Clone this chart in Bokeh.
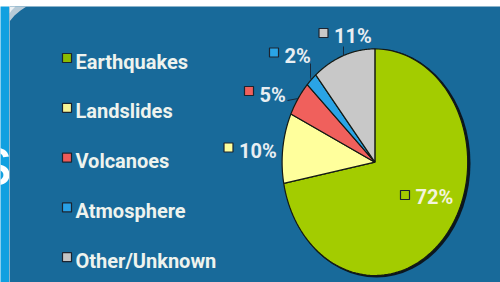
import numpy as np
from bokeh.plotting import figure
from bokeh.layouts import column, row
from bokeh.models import Range1d, ColumnDataSource
from bokeh.core.properties import value
from bokeh.embed import file_html
from bokeh.resources import INLINE

# ---- data ----
categories = ["Earthquakes", "Landslides", "Volcanoes", "Atmosphere", "Other/Unknown"]
shares = [72, 10, 5, 2, 11]
pct_labels = ["72%", "10%", "5%", "2%", "11%"]
bg_text_top = "raised, specially for"
bg_text_left = "s"

# ---- styles / layout ----
slice_colors = ["#a3cc00", "#ffff9c", "#f0605c", "#2aa4e6", "#c8c8c8"]
legend_marker_colors = ["#8cbc00", "#f8f494", "#ee5a58", "#28a0e6", "#c4c4c4"]
dark_blue = "#186a9a"
light_blue = "#11a0e0"
font = "Roboto"

W, H = 500, 282
TOP, LEFT = 6, 9


def bare(fig):
    fig.axis.visible = False
    fig.grid.visible = False
    return fig


# top strip of the slide (light blue, text cut by the panel)
top = bare(figure(width=W, height=TOP, output_backend="svg", toolbar_location=None,
                  x_range=Range1d(0, W), y_range=Range1d(TOP, 0), min_border=0,
                  background_fill_color=light_blue, border_fill_color=light_blue,
                  outline_line_color=None))
top.text(x=[-14], y=[-7], text=[bg_text_top], text_color="white",
         text_font=value("Liberation Sans"), text_font_size="54px",
         text_baseline="middle", text_align="left")

# left strip of the slide
left = bare(figure(width=LEFT, height=H - TOP, output_backend="svg", toolbar_location=None,
                   x_range=Range1d(0, LEFT), y_range=Range1d(H, TOP), min_border=0,
                   background_fill_color=light_blue, border_fill_color=light_blue,
                   outline_line_color=None))
left.text(x=[-6], y=[160.7], text=[bg_text_left], text_color="white",
          text_font=value("Liberation Sans"), text_font_size="70px",
          text_baseline="middle", text_align="center")

# main dark panel
p = bare(figure(width=W - LEFT, height=H - TOP, output_backend="svg", toolbar_location=None,
                x_range=Range1d(LEFT, W), y_range=Range1d(H, TOP), min_border=0,
                background_fill_color=dark_blue, border_fill_color=dark_blue,
                outline_line_color=None))

# page curl decoration at top-left
p.patch([9, 26, 20, 14, 9], [6, 6, 10, 15, 21], fill_color="#d4dbe2",
        fill_alpha=0.85, line_color=None)
p.patch([9, 15, 11, 9], [6, 6, 10, 13], fill_color="#f2f4f6",
        fill_alpha=0.9, line_color=None)

# pie geometry (ellipse, angles clockwise from 12 o'clock)
cx, cy, rx, ry = 374.4, 161.7, 92.8, 113.3
total = float(sum(shares))
cum = np.concatenate([[0.0], np.cumsum(shares)]) / total
xs, ys = [], []
for i in range(len(shares)):
    t = np.linspace(cum[i], cum[i + 1], 120) * 2 * np.pi
    xs.append(np.concatenate([[cx], cx + rx * np.sin(t), [cx]]).tolist())
    ys.append(np.concatenate([[cy], cy - ry * np.cos(t), [cy]]).tolist())

# shadow
p.ellipse(x=[cx + 1.6], y=[cy + 1.0], width=2 * rx + 2.4, height=2 * ry + 2.0,
          fill_color="#0b1620", line_color=None)
p.patches(xs=xs, ys=ys, fill_color=slice_colors, line_color="#141a14",
          line_width=1.2)

# leader lines: from slice mid-edge to label
mid = (cum[:-1] + cum[1:]) / 2 * 2 * np.pi
ex = cx + rx * np.sin(mid)
ey = cy - ry * np.cos(mid)
lab_marker_x = [404.5, 228.0, 248.5, 273.5, 323.0]
lab_marker_y = [194.5, 147.0, 90.5, 52.0, 32.5]
lab_text_y = [196.5, 150.5, 94.5, 55.0, 35.5]
lead_end = [None, None, (287.0, 100.0), (310.0, 63.0), (343.0, 46.0)]
for i, le in enumerate(lead_end):
    if le is None:
        continue
    if i == 3:
        p.line([ex[i], le[0], le[0]], [ey[i], ey[i] - 2, le[1]],
               line_color="#17283a", line_width=1)
    else:
        p.line([ex[i], le[0]], [ey[i], le[1]], line_color="#17283a", line_width=1)

lab_src = ColumnDataSource(dict(
    mx=lab_marker_x, my=lab_marker_y,
    tx=[x + 10.5 for x in lab_marker_x],
    ty=lab_text_y,
    text=pct_labels, fill=slice_colors,
    tcol=["#f4f4dc", "#e8eef2", "#e8eef2", "#e8eef2", "#e8eef2"]))
p.scatter("mx", "my", source=lab_src, marker="square", size=9,
          fill_color="fill", line_color="#1c2430", line_width=1.2)
p.text("tx", "ty", text="text", source=lab_src, text_color="tcol",
       text_font=value(font), text_font_style="bold", text_font_size="20px",
       text_baseline="middle", text_align="left")

# legend on the left
n = len(categories)
leg_y0, leg_dy = 57.5, 49.8
leg_src = ColumnDataSource(dict(
    mx=[66.5] * n,
    my=[leg_y0 + i * leg_dy for i in range(n)],
    tx=[75.0] * n,
    ty=[leg_y0 + 3.5 + i * leg_dy for i in range(n)],
    text=categories, fill=legend_marker_colors))
p.scatter("mx", "my", source=leg_src, marker="square", size=9,
          fill_color="fill", line_color="#1c2430", line_width=1.2)
p.text("tx", "ty", text="text", source=leg_src, text_color="#eef3ee",
       text_font=value(font), text_font_style="bold", text_font_size="20px",
       text_baseline="middle", text_align="left")

page = column(top, row(left, p, spacing=0), spacing=0)
open("out.html", "w").write(file_html(page, INLINE))
